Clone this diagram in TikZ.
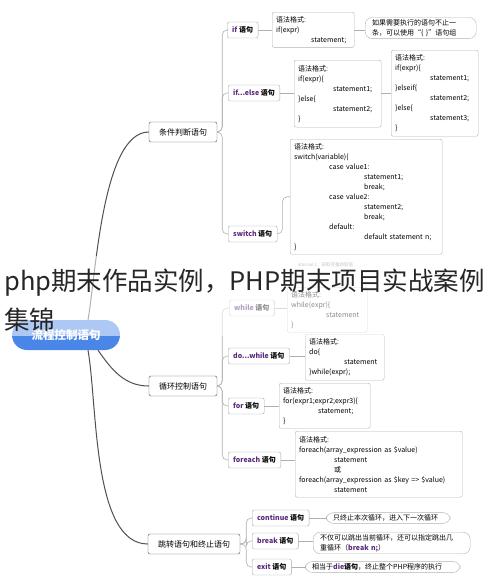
\documentclass[tikz,border=0pt]{standalone}
\usepackage{fontspec}
\setmainfont{Noto Sans CJK SC}
\usetikzlibrary{positioning}
\definecolor{kwpurple}{RGB}{92,42,124}
\definecolor{rootblue}{RGB}{74,134,232}
\definecolor{linegray}{RGB}{80,80,80}
\definecolor{twiggray}{RGB}{175,175,175}
\newcommand{\kw}[1]{\textcolor{kwpurple}{\textbf{#1}}}
\newcommand{\ind}{\hspace*{35pt}}

\begin{document}
\begin{tikzpicture}[x=1pt, y=-1pt,
  rootbox/.style={fill=rootblue, rounded corners=15pt, minimum width=108pt, minimum height=30pt, text=white, font=\fontsize{11.5}{13}\selectfont\bfseries},
  mainbox/.style={draw=linegray, fill=white, rounded corners=2pt, minimum height=20pt, inner xsep=10pt, font=\fontsize{8}{9}\selectfont},
  subbox/.style={draw=gray!70, fill=white, rounded corners=2pt, minimum height=16pt, inner xsep=5pt, font=\fontsize{7}{8}\selectfont\bfseries},
  codebox/.style={draw=gray!60, fill=white, rounded corners=2pt, align=left, inner sep=4pt, anchor=north west, font=\fontsize{7}{10}\selectfont},
  notebox/.style={draw=gray!60, fill=white, rounded corners=7pt, align=left, inner xsep=7pt, inner ysep=2pt, anchor=west, font=\fontsize{7}{10}\selectfont},
  branch/.style={draw=linegray, line width=1pt},
  twig/.style={draw=twiggray, line width=0.6pt, rounded corners=5pt},
  titletext/.style={font=\fontsize{25.5}{38}\selectfont, text=black!85, anchor=base west, inner sep=0pt}
]
\useasboundingbox (0,0) rectangle (490,587);

% root and main branches
\node[rootbox] (root) at (66,335) {流程控制语句};
\node[mainbox] (cond) at (183,132) {条件判断语句};
\node[mainbox] (loop) at (183,386) {循环控制语句};
\node[mainbox] (jump) at (194,544) {跳转语句和终止语句};

\draw[branch] ([xshift=22pt]root.north) to[out=80, in=180, looseness=0.6] (cond.west);
\draw[branch] ([xshift=32pt]root.south) to[out=-55, in=180] (loop.west);
\draw[branch] ([xshift=22pt]root.south) to[out=-80, in=180, looseness=0.7] (jump.west);

% condition statements
\node[subbox, anchor=west] (ifn) at (227,30) {\kw{if} 语句};
\node[subbox, anchor=west] (ifelse) at (228,93) {\kw{if...else} 语句};
\node[subbox, anchor=west] (switch) at (228,234) {\kw{switch} 语句};

\node[codebox, text width=74pt, minimum height=34pt] (ifcode) at (272,12)
  {语法格式:\\if(expr)\\\ind statement;};
\node[notebox, text width=97pt] (ifnote) at (365,28)
  {如果需要执行的语句不止一\\条，可以使用“\{ \}”语句组};
\node[codebox, text width=79pt, minimum height=67pt] (elsecode) at (294,60)
  {语法格式:\\if(expr)\{\\\ind statement1;\\\}else\{\\\ind statement2;\\\}};
\node[codebox, text width=79pt, minimum height=86pt] (elseifcode) at (391,50)
  {语法格式:\\if(expr)\{\\\ind statement1;\\\}elseif\{\\\ind statement2;\\\}else\{\\\ind statement3;\\\}};
\node[codebox, text width=144pt, minimum height=115pt] (swcode) at (290,139)
  {语法格式:\\switch(variable)\{\\\ind case value1:\\\ind\ind statement1;\\\ind\ind break;\\\ind case value2:\\\ind\ind statement2;\\\ind\ind break;\\\ind default:\\\ind\ind default statement n;\\\}};
\node[anchor=west, font=\fontsize{4.5}{5}\selectfont, text=gray] (swhint) at (294,265) {interval 1：获取变量的取值};

\draw[twig] (cond.east) -- ++(5pt,0) |- (ifn.west);
\draw[twig] (cond.east) -- ++(5pt,0) |- (ifelse.west);
\draw[twig] (cond.east) -- ++(5pt,0) |- (switch.west);
\draw[twig] (ifn.east) -- (ifn.east -| ifcode.west);
\draw[twig] (ifcode.east) -- (ifcode.east -| ifnote.west);
\draw[twig] (ifelse.east) -- (ifelse.east -| elsecode.west);
\draw[twig] (elsecode.east) -- (elsecode.east -| elseifcode.west);
\draw[twig] (switch.east) -- ++(5pt,0) |- (swcode.west);

% loop statements
\node[subbox, anchor=west] (while) at (229,308) {\kw{while} 语句};
\node[subbox, anchor=west] (dowhile) at (228,356) {\kw{do...while} 语句};
\node[subbox, anchor=west] (for) at (228,406) {\kw{for} 语句};
\node[subbox, anchor=west] (foreach) at (228,460) {\kw{foreach} 语句};

\node[codebox, text width=72pt, minimum height=43pt] (whilecode) at (287,287)
  {语法格式:\\while(expr)\{\\\ind statement\\\}};
\node[codebox, text width=71pt, minimum height=46pt] (docode) at (305,334)
  {语法格式:\\do\{\\\ind statement\\\}while(expr);};
\node[codebox, text width=83pt, minimum height=45pt] (forcode) at (279,383)
  {语法格式:\\for(expr1;expr2;expr3)\{\\\ind statement;\\\}};
\node[codebox, text width=159pt, minimum height=66pt] (foreachcode) at (295,431)
  {语法格式:\\foreach(array\_expression as \$value)\\\ind statement\\\ind 或\\foreach(array\_expression as \$key => \$value)\\\ind statement};

\draw[twig] (loop.east) -- ++(5pt,0) |- (while.west);
\draw[twig] (loop.east) -- ++(5pt,0) |- (dowhile.west);
\draw[twig] (loop.east) -- ++(5pt,0) |- (for.west);
\draw[twig] (loop.east) -- ++(5pt,0) |- (foreach.west);
\draw[twig] (while.east) -- (while.east -| whilecode.west);
\draw[twig] (dowhile.east) -- (dowhile.east -| docode.west);
\draw[twig] (for.east) -- (for.east -| forcode.west);
\draw[twig] (foreach.east) -- (foreach.east -| foreachcode.west);

% jump statements
\node[subbox, anchor=west] (continue) at (252,518) {\kw{continue} 语句};
\node[subbox, anchor=west] (break) at (252,541) {\kw{break} 语句};
\node[subbox, anchor=west] (exit) at (252,567) {\kw{exit} 语句};

\node[notebox, text width=110pt] (contnote) at (326,518) {只终止本次循环，进入下一次循环};
\node[notebox, text width=143pt] (breaknote) at (313,543) {不仅可以跳出当前循环，还可以指定跳出几\\重循环（\kw{break n;}）};
\node[notebox, text width=141pt] (exitnote) at (305,567) {相当于\kw{die}\textbf{语句}，终止整个PHP程序的执行};

\draw[twig] (jump.east) -- ++(6pt,0) |- (continue.west);
\draw[twig] (jump.east) -- ++(6pt,0) |- (break.west);
\draw[twig] (jump.east) -- ++(6pt,0) |- (exit.west);
\draw[twig] (continue.east) -- (continue.east -| contnote.west);
\draw[twig] (break.east) -- (break.east -| breaknote.west);
\draw[twig] (exit.east) -- (exit.east -| exitnote.west);

% title band over the map
\fill[white, opacity=0.55] (0,256) rectangle (490,336);
\node[titletext] (titleone) at (4,290) {php期末作品实例，PHP期末项目实战案例};
\node[titletext] (titletwo) at (4,329) {集锦};
\end{tikzpicture}
\end{document}
